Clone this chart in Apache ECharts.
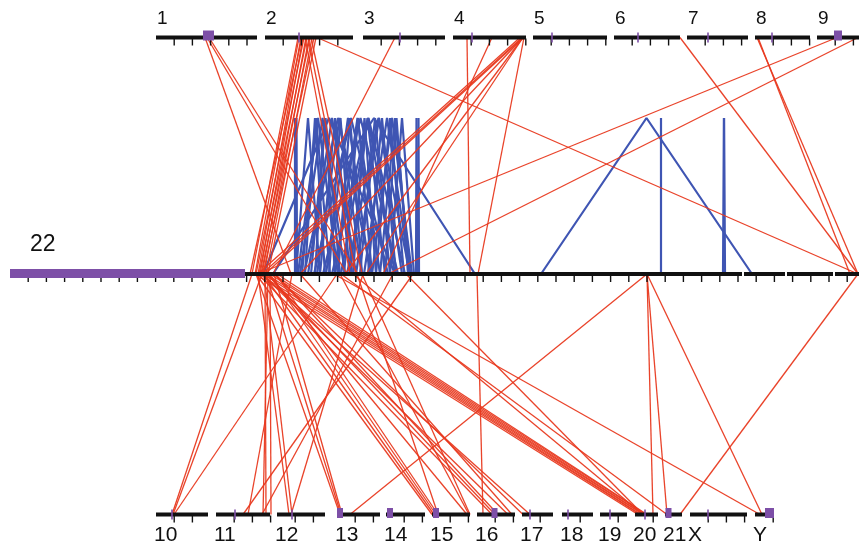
<!DOCTYPE html>
<html><head><meta charset="utf-8">
<script src="https://cdn.jsdelivr.net/npm/echarts@6/dist/echarts.min.js"></script>
<style>html,body{margin:0;padding:0;background:#fff}#c{width:859px;height:547px}</style>
</head><body><div id="c"></div>
<script>
// ---------------- data ----------------
const topChromosomes = ['1','2','3','4','5','6','7','8','9'];
const bottomChromosomes = ['10','11','12','13','14','15','16','17','18','19','20','21','X','Y'];
const focusChromosome = '22';
// marked region on each chromosome (position on the track axis) and its span (0 = single mark)
const markerChromosomes = ['1','2','3','4','5','6','7','8','9','10','11','12','13','14','15','16','17','18','19','20','21','X','Y'];
const markerPositions   = [208.5,299,400,472,552,638,708,772,838,172,235,292,340,390,436,494.5,530,568,610,645,668.5,708,769.5];
const markerSpans       = [11,0,0,0,0,0,0,0,8,0,0,0,6,6,6,6,0,0,0,0,6,0,9];
const focusHighlight = [10, 245];
// inter-chromosomal links: [partner chromosome, partner position, chr22 position]
const redLinks = [
  ['1',205,291],['1',207,347],['1',209,358],
  ['2',298,252],['2',299,255],['2',301,258],['2',302,250],['2',303,260],['2',304,256],['2',306,262],
  ['2',307,259],['2',309,264],['2',310,261],['2',312,266],['2',314,263],['2',316,268],
  ['2',305,350],['2',308,356],['2',311,362],['2',317,858],
  ['3',395,273],
  ['4',467,470],['4',492,383],['4',520,258],['4',522,262],['4',523,265],['4',523,300],['4',523,345],['4',523,366],['4',524,478],
  ['6',680,858],['8',757,858],['8',758,850],['9',837,258],['9',858,388],
  ['10',172,252],['10',173,262],['10',174,337],
  ['11',243,413],['11',248,292],['11',262,393],['11',263,268],['11',266,265],['11',271,270],
  ['12',289,258],['12',292,264],['12',291,363],
  ['13',340,256],['13',341,266],['13',342,274],['13',350,647],
  ['15',432,256],['15',434,263],['15',436,270],['15',438,276],['15',438,357],['15',467,268],['15',469,340],['15',470,362],
  ['16',483,477],['16',492,258],['16',495,267],['16',498,275],['16',508,262],['16',512,300],
  ['17',523,274],['17',530,262],
  ['20',638,255],['20',640,259],['20',641,263],['20',643,266],['20',644,270],['20',646,273],['20',647,277],
  ['20',643,406],['20',643,353],['20',653,647],
  ['21',667,341],['21',667,647],['21',680,858],
  ['Y',760,334],['Y',762,647]
];
// intra-chromosomal chr22 links: start and end positions
const intraStart = [295,296,416,418,661,724,723,541,273,263,
  300,302,304,308,311,314,317,320,323,326,329,332,335,338,341,344,347,350,353,356,360,364,368,372,376,380,296,298,305,315,385,390];
const intraEnd   = [295,297,417,419,661,724,725,752,475,395,
  345,330,372,356,340,388,362,350,398,370,352,405,380,362,395,372,410,385,376,402,390,410,396,412,404,410,320,338,325,335,408,414];

// ---------------- layout ----------------
const layout = {
  rowY: {top: 37.5, mid: 274, bottom: 514.5},
  apexY: 118,
  tickStep: 18.2,
  extent: {
    '1':[156,257],'2':[265,353],'3':[363,445],'4':[453,526],'5':[533,607],'6':[614,680],'7':[687,748],'8':[755,810],'9':[817,880],
    '10':[156,208],'11':[216,270],'12':[277,325],'13':[337,380],'14':[386,425],'15':[432,470],'16':[477,515],'17':[522,553],
    '18':[562,593],'19':[600,627],'20':[635,658],'21':[665,682],'X':[690,747],'Y':[755,774],
    '22':[10,880]
  },
  focusGaps: [[742,744],[785,787],[833,835]]
};
const colors = {red:'#e8391f', blue:'#3f55b3', purple:'#7d4fa7', black:'#111111'};
const fontFamily = "'Liberation Sans', Arial, Helvetica, sans-serif";

const rowOf = {};
topChromosomes.forEach(c => rowOf[c] = 'top');
bottomChromosomes.forEach(c => rowOf[c] = 'bottom');
rowOf[focusChromosome] = 'mid';

const trackNames = [...topChromosomes, ...bottomChromosomes, focusChromosome];
const trackData = trackNames.map(c => [layout.extent[c][0], layout.rowY[rowOf[c]], layout.extent[c][1], layout.rowY[rowOf[c]]]);

const redData = redLinks.map(l => [l[1], layout.rowY[rowOf[l[0]]], l[2], layout.rowY.mid]);
const blueData = intraStart.map((s, i) => [s, intraEnd[i], layout.rowY.mid, layout.apexY]);

function renderRed(params, api) {
  const a = api.coord([api.value(0), api.value(1)]);
  const b = api.coord([api.value(2), api.value(3)]);
  return {type:'line', shape:{x1:a[0], y1:a[1], x2:b[0], y2:b[1]}, style:{stroke:colors.red, lineWidth:1.3, opacity:0.95}};
}
function renderBlue(params, api) {
  const s = api.value(0), e = api.value(1), y = api.value(2), ay = api.value(3);
  const p1 = api.coord([s, y]), p2 = api.coord([(s + e) / 2, ay]), p3 = api.coord([e, y]);
  return {type:'polyline', shape:{points:[p1, p2, p3]}, style:{stroke:colors.blue, lineWidth:2.2, fill:null, lineJoin:'bevel'}};
}
function renderTrack(params, api) {
  const c = trackNames[params.dataIndex];
  const row = rowOf[c];
  const x0 = api.value(0), y = api.value(1), x1 = api.value(2);
  const children = [];
  let segs = [[x0, x1]];
  if (c === focusChromosome) {
    segs = [];
    let s = focusHighlight[1];
    layout.focusGaps.forEach(g => { segs.push([s, g[0]]); s = g[1]; });
    segs.push([s, x1]);
  }
  segs.forEach(([a, b]) => {
    const pa = api.coord([a, y]), pb = api.coord([b, y]);
    children.push({type:'rect', shape:{x:pa[0], y:pa[1] - 2, width:pb[0] - pa[0], height:4}, style:{fill:colors.black}});
  });
  for (let t = x0 + layout.tickStep; t <= x1 + 0.8; t += layout.tickStep) {
    const pt = api.coord([t, y]);
    children.push({type:'line', shape:{x1:pt[0], y1:pt[1] + 1, x2:pt[0], y2:pt[1] + 8}, style:{stroke:colors.black, lineWidth:1.4}});
  }
  if (c === focusChromosome) {
    const pa = api.coord([focusHighlight[0], y]), pb = api.coord([focusHighlight[1], y]);
    children.push({type:'rect', shape:{x:pa[0], y:pa[1] - 5, width:pb[0] - pa[0], height:9}, style:{fill:colors.purple}});
    children.push({type:'text', x:pa[0] + 20, y:pa[1] - 29, style:{text:c, fill:colors.black, font:'23px ' + fontFamily, textAlign:'left', textVerticalAlign:'middle'}});
  } else {
    const mi = markerChromosomes.indexOf(c);
    if (mi >= 0) {
      const pm = api.coord([markerPositions[mi], y]);
      const span = markerSpans[mi];
      if (span > 0) {
        const ps = api.coord([markerPositions[mi] - span / 2, y]), pe = api.coord([markerPositions[mi] + span / 2, y]);
        const top = row === 'top' ? pm[1] - 7 : pm[1] - 6.5;
        children.push({type:'rect', shape:{x:ps[0], y:top, width:pe[0] - ps[0], height:10}, style:{fill:colors.purple}});
      } else {
        children.push({type:'line', shape:{x1:pm[0], y1:pm[1] - 5, x2:pm[0], y2:pm[1] + 5}, style:{stroke:colors.purple, lineWidth:1.6}});
      }
    }
    const p0 = api.coord([x0, y]);
    if (row === 'top') {
      children.push({type:'text', x:p0[0] + 1, y:p0[1] - 19, style:{text:c, fill:colors.black, font:'19px ' + fontFamily, textAlign:'left', textVerticalAlign:'middle'}});
    } else {
      children.push({type:'text', x:p0[0] - 2, y:p0[1] + 21, style:{text:c, fill:colors.black, font:'21px ' + fontFamily, textAlign:'left', textVerticalAlign:'middle'}});
    }
  }
  return {type:'group', children};
}

const chart = echarts.init(document.getElementById('c'), null, {renderer:'canvas'});
chart.setOption({
  animation:false,
  backgroundColor:'#ffffff',
  grid:{left:0, right:0, top:0, bottom:0},
  xAxis:{type:'value', min:0, max:859, show:false},
  yAxis:{type:'value', min:0, max:547, inverse:true, show:false},
  series:[
    {type:'custom', name:'intra', renderItem:renderBlue, data:blueData, encode:{x:[0,1], y:[2,3]}, clip:false, silent:true},
    {type:'custom', name:'inter', renderItem:renderRed, data:redData, encode:{x:[0,2], y:[1,3]}, clip:false, silent:true},
    {type:'custom', name:'tracks', renderItem:renderTrack, data:trackData, encode:{x:[0,2], y:[1,3]}, clip:false, silent:true}
  ]
});
</script></body></html>
